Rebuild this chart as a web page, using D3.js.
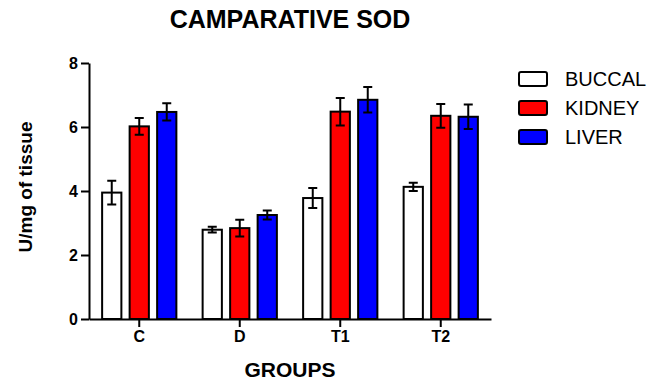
<!DOCTYPE html>
<head>
<meta charset="utf-8">
<script src="https://d3js.org/d3.v7.min.js"></script>
</head>
<style>
body { margin: 0; background: #fff; }
text { font-family: "Liberation Sans", Arial, sans-serif; fill: #000; }
.axis path, .axis line { stroke: #000; stroke-width: 2px; }
</style>
<body>
<script>
// data
var groups = ["C", "D", "T1", "T2"];
var tissues = ["BUCCAL", "KIDNEY", "LIVER"];
var colors = ["#ffffff", "#ff0000", "#0000ff"];
var buccal = [3.95, 2.79, 3.78, 4.13];
var kidney = [6.02, 2.84, 6.48, 6.35];
var liver  = [6.47, 3.25, 6.85, 6.32];
var buccalErr = [0.37, 0.09, 0.31, 0.13];
var kidneyErr = [0.26, 0.26, 0.43, 0.37];
var liverErr  = [0.27, 0.14, 0.40, 0.38];
var yTicks = [0, 2, 4, 6, 8];

var values = [buccal, kidney, liver];
var errs = [buccalErr, kidneyErr, liverErr];

var width = 652, height = 382;
var plotLeft = 89, plotRight = 491, plotTop = 63, plotBottom = 319;

var svg = d3.select("body").append("svg")
    .attr("width", width)
    .attr("height", height);

var x = d3.scaleBand().domain(groups).range([plotLeft, plotRight]);
var x1 = d3.scaleBand().domain(tissues).range([-41.25, 41.25])
    .paddingInner(0.3).paddingOuter(0.15);
var y = d3.scaleLinear().domain([0, 8]).range([plotBottom, plotTop]);

// bars
var rows = [];
groups.forEach(function(g, i) {
  tissues.forEach(function(t, j) {
    rows.push({g: g, t: t, j: j, v: values[j][i], e: errs[j][i]});
  });
});

var bar = svg.append("g").selectAll("g").data(rows).enter().append("g")
    .attr("transform", function(d) {
      return "translate(" + (x(d.g) + x.bandwidth() / 2 + x1(d.t)) + ",0)";
    });

bar.append("rect")
    .attr("x", 0)
    .attr("width", x1.bandwidth())
    .attr("y", function(d) { return y(d.v); })
    .attr("height", function(d) { return y(0) - y(d.v); })
    .attr("fill", function(d) { return colors[d.j]; })
    .attr("stroke", "#000")
    .attr("stroke-width", 2);

// error bars
var cx = x1.bandwidth() / 2, cap = 4.5;
bar.append("path")
    .attr("fill", "none")
    .attr("stroke", "#000")
    .attr("stroke-width", 2)
    .attr("d", function(d) {
      var t = y(d.v + d.e), b = y(d.v - d.e);
      return "M" + cx + "," + t + "V" + b +
        "M" + (cx - cap) + "," + t + "H" + (cx + cap) +
        "M" + (cx - cap) + "," + b + "H" + (cx + cap);
    });

// axes
var yAxis = svg.append("g")
    .attr("class", "axis")
    .attr("transform", "translate(" + plotLeft + ",0)")
    .call(d3.axisLeft(y).tickValues(yTicks).tickSize(8).tickSizeOuter(0).tickPadding(3));

var xAxis = svg.append("g")
    .attr("class", "axis")
    .attr("transform", "translate(0," + plotBottom + ")")
    .call(d3.axisBottom(x).tickSize(8).tickSizeOuter(0).tickPadding(4));

svg.selectAll(".axis text")
    .attr("fill", "#000")
    .style("font-family", "'Liberation Sans', Arial, sans-serif")
    .style("font-size", "16px")
    .style("font-weight", "bold");

// titles
svg.append("text")
    .attr("x", 290).attr("y", 28)
    .attr("text-anchor", "middle")
    .style("font-size", "25px").style("font-weight", "bold")
    .text("CAMPARATIVE SOD");

svg.append("text")
    .attr("x", 290).attr("y", 377)
    .attr("text-anchor", "middle")
    .style("font-size", "21px").style("font-weight", "bold")
    .text("GROUPS");

svg.append("text")
    .attr("transform", "translate(32,187) rotate(-90)")
    .attr("text-anchor", "middle")
    .style("font-size", "19px").style("font-weight", "bold")
    .text("U/mg of tissue");

// legend
var legend = svg.append("g").selectAll("g").data(tissues).enter().append("g")
    .attr("transform", function(d, i) { return "translate(519," + (72 + i * 29) + ")"; });

legend.append("rect")
    .attr("width", 28).attr("height", 14)
    .attr("rx", 2)
    .attr("fill", function(d, i) { return colors[i]; })
    .attr("stroke", "#000").attr("stroke-width", 2);

legend.append("text")
    .attr("x", 46).attr("y", 14)
    .style("font-size", "20px")
    .text(function(d) { return d; });
</script>
</body>
